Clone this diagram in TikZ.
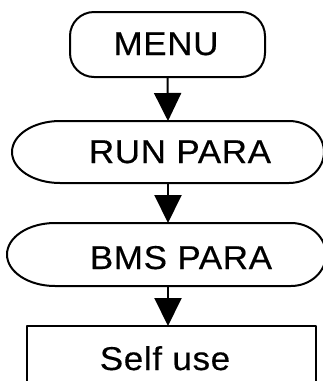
\documentclass[tikz,border=0pt]{standalone}
\usepackage{fontspec}
\usetikzlibrary{arrows.meta}
\newfontfamily\labelfont[FakeStretch=1.06,LetterSpace=2,FakeBold=0.4]{Liberation Sans}
\begin{document}
\begin{tikzpicture}[x=1pt,y=1pt,
  outline/.style={draw=black,line width=2pt,line join=round},
  label/.style={font=\labelfont\fontsize{33}{36}\selectfont,anchor=base,inner sep=0pt},
  flow/.style={line width=2pt,-{Triangle[width=27pt,length=28pt]}}]
\useasboundingbox (0,0) rectangle (323,-381);
\clip (0,0) rectangle (323,-381);

% start box
\node[outline,rounded corners=24pt,minimum width=195pt,minimum height=65pt,inner sep=0pt]
  (menu) at (167.5,-44.5) {};
\node[label] (menutext) at (166,-55) {MENU};

% first terminal
\draw[outline] (60,-121) -- (289,-121)
  arc[start angle=90,end angle=-90,x radius=35pt,y radius=31pt]
  -- (60,-183)
  arc[start angle=270,end angle=90,x radius=48pt,y radius=31pt] -- cycle;
\coordinate (run-top) at (168,-121);
\coordinate (run-bot) at (168,-183);
\node[label] (runtext) at (180,-163) {RUN PARA};

% second terminal
\draw[outline] (55,-223) -- (291,-223)
  arc[start angle=90,end angle=-90,x radius=35pt,y radius=31.5pt]
  -- (55,-286)
  arc[start angle=270,end angle=90,x radius=48pt,y radius=31.5pt] -- cycle;
\coordinate (bms-top) at (168,-223);
\coordinate (bms-bot) at (168,-286);
\node[label] (bmstext) at (181,-269) {BMS PARA};

% process box
\draw[outline] (27,-400) -- (27,-326) -- (316,-326) -- (316,-400);
\coordinate (self-top) at (168,-326);
\node[label] (selftext) at (165,-370) {Self use};

% connectors
\draw[flow] (menu.south) -- (run-top);
\draw[flow] (run-bot) -- (bms-top);
\draw[flow] (bms-bot) -- (self-top);
\end{tikzpicture}
\end{document}
